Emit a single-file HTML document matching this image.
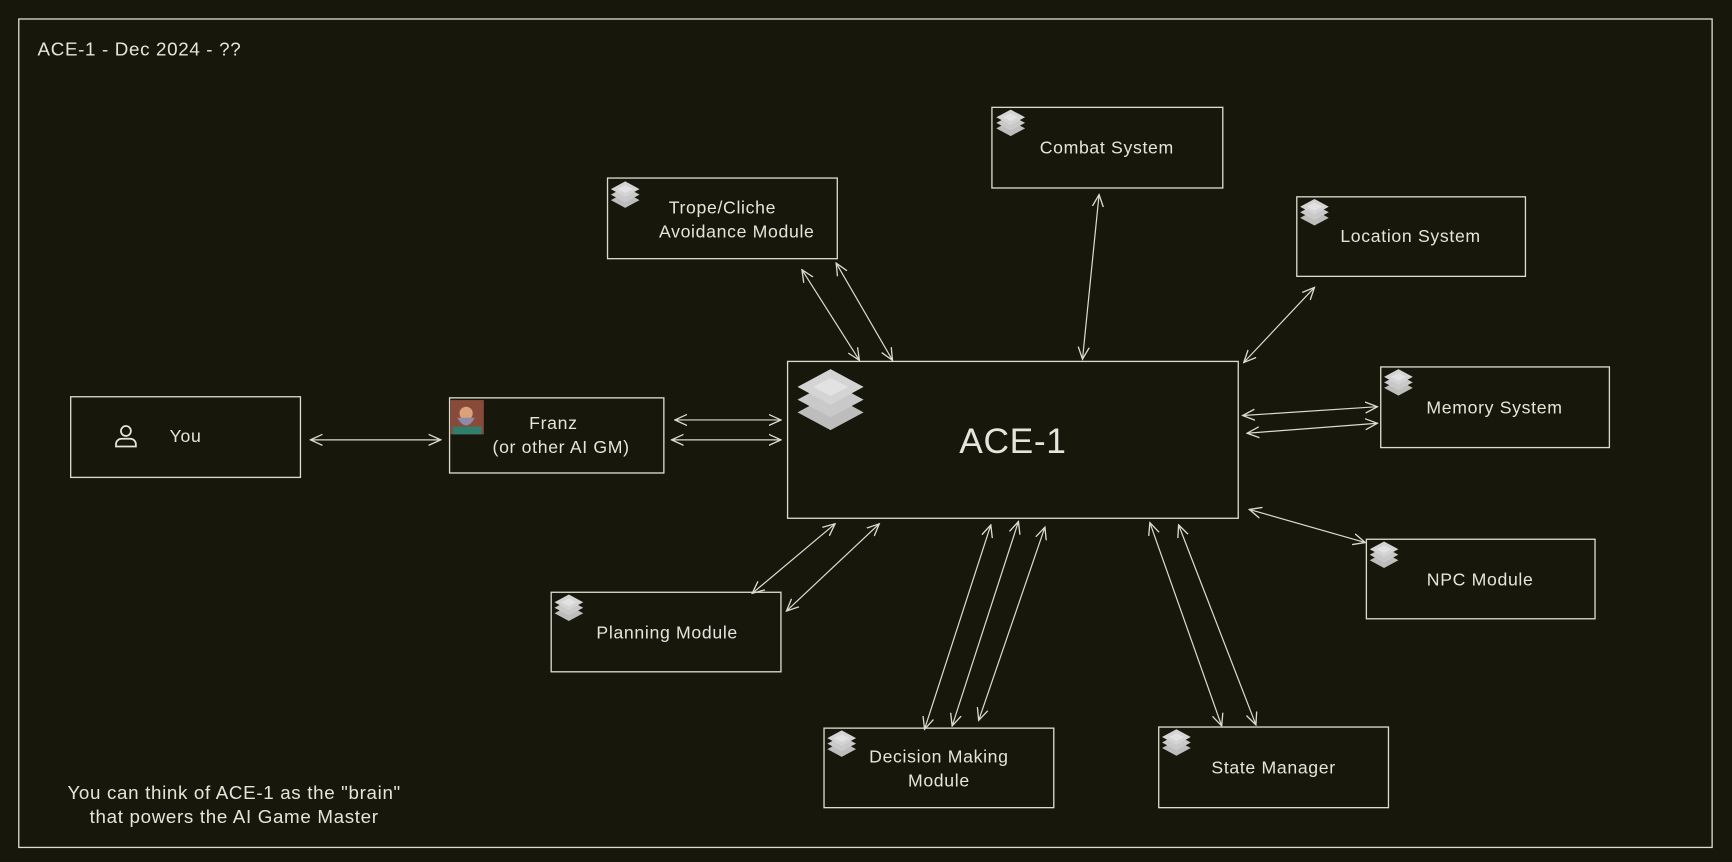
<!DOCTYPE html>
<html><head><meta charset="utf-8"><style>
html,body{margin:0;padding:0;background:#18170b;}
svg{display:block}
text{font-family:"Liberation Sans",sans-serif;fill:#e6e4dc;letter-spacing:0.6px;}
</style></head><body>
<svg width="1732" height="862" viewBox="0 0 1568 780" xmlns="http://www.w3.org/2000/svg">
<defs>
<marker id="a" viewBox="0 0 12 12" refX="11" refY="6" markerWidth="12" markerHeight="12" markerUnits="userSpaceOnUse" orient="auto-start-reverse">
<path d="M0,1 L11,6 L0,11" fill="none" stroke="#dcdad2" stroke-width="1.2"/>
</marker>
<g id="st">
<polygon points="0,17 13,10 26,17 13,24" fill="#bdbdbd"/>
<polygon points="0,12 13,5 26,12 13,19" fill="#c9c9c9"/>
<polygon points="0,7 13,0 26,7 13,14" fill="#d4d4d4"/>
<polygon points="6,7 13,3.5 20,7 13,10.5" fill="#e2e2e2"/>
</g>
</defs>
<rect width="1568" height="780" fill="#18170b"/>
<g fill="none" stroke="#dcdad2" stroke-width="1.2">
<rect x="17" y="17" width="1533" height="750"/>
<rect x="64" y="359" width="208" height="73"/>
<rect x="407" y="360" width="194" height="68"/>
<rect x="713" y="327" width="408" height="142"/>
<rect x="550" y="161" width="208" height="73"/>
<rect x="898" y="97" width="209" height="73"/>
<rect x="1174" y="178" width="207" height="72"/>
<rect x="1250" y="332" width="207" height="73"/>
<rect x="1237" y="488" width="207" height="72"/>
<rect x="499" y="536" width="208" height="72"/>
<rect x="746" y="659" width="208" height="72"/>
<rect x="1049" y="658" width="208" height="73"/>
</g>
<g stroke="#dcdad2" stroke-width="1.1" marker-start="url(#a)" marker-end="url(#a)">
<line x1="281" y1="398" x2="399" y2="398"/>
<line x1="611" y1="380" x2="707" y2="380"/>
<line x1="608" y1="398" x2="707" y2="398"/>
<line x1="726" y1="244" x2="778" y2="326"/>
<line x1="757" y1="238" x2="808" y2="326"/>
<line x1="995" y1="176" x2="980" y2="325"/>
<line x1="1190" y1="260" x2="1126" y2="328"/>
<line x1="1125" y1="376" x2="1247" y2="368"/>
<line x1="1129" y1="392" x2="1247" y2="383"/>
<line x1="1131" y1="461" x2="1236" y2="491"/>
<line x1="756" y1="474" x2="681" y2="537"/>
<line x1="796" y1="474" x2="712" y2="553"/>
<line x1="897" y1="475" x2="837" y2="660"/>
<line x1="922" y1="472" x2="862" y2="657"/>
<line x1="946" y1="477" x2="886" y2="652"/>
<line x1="1041" y1="473" x2="1106" y2="657"/>
<line x1="1067" y1="475" x2="1137" y2="656"/>
</g>
<use href="#st" transform="translate(722,334) scale(2.3)"/>
<use href="#st" x="553" y="164"/>
<use href="#st" x="902" y="99"/>
<use href="#st" x="1177" y="180"/>
<use href="#st" x="1253" y="334"/>
<use href="#st" x="1240" y="490"/>
<use href="#st" x="502" y="538"/>
<use href="#st" x="749" y="661"/>
<use href="#st" x="1052" y="660"/>
<rect x="408" y="362" width="30" height="31" fill="#8a4a3a"/>
<circle cx="422" cy="374" r="6" fill="#d9a27a"/>
<path d="M414,378 Q422,392 430,378 Z" fill="#8f8aa8"/>
<rect x="410" y="386" width="26" height="7" fill="#2f7f6a"/>
<g fill="none" stroke="#e6e4dc" stroke-width="1.6">
<circle cx="114" cy="390" r="4.5"/>
<path d="M105,404 v-2 a5,5 0 0 1 5,-5 h8 a5,5 0 0 1 5,5 v2 z"/>
</g>
<g font-size="16" text-anchor="middle">
<text x="34" y="50" text-anchor="start" font-size="17">ACE-1 - Dec 2024 - ??</text>
<text x="168" y="400">You</text>
<text x="501" y="388">Franz</text>
<text x="508" y="410">(or other AI GM)</text>
<text x="917" y="410" font-size="32">ACE-1</text>
<text x="654" y="193">Trope/Cliche</text>
<text x="667" y="215">Avoidance Module</text>
<text x="1002" y="139">Combat System</text>
<text x="1277" y="219">Location System</text>
<text x="1353" y="374">Memory System</text>
<text x="1340" y="530">NPC Module</text>
<text x="604" y="578">Planning Module</text>
<text x="850" y="690">Decision Making</text>
<text x="850" y="712">Module</text>
<text x="1153" y="700">State Manager</text>
<text x="212" y="723" font-size="17">You can think of ACE-1 as the "brain"</text>
<text x="212" y="745" font-size="17">that powers the AI Game Master</text>
</g>
</svg>
</body></html>
